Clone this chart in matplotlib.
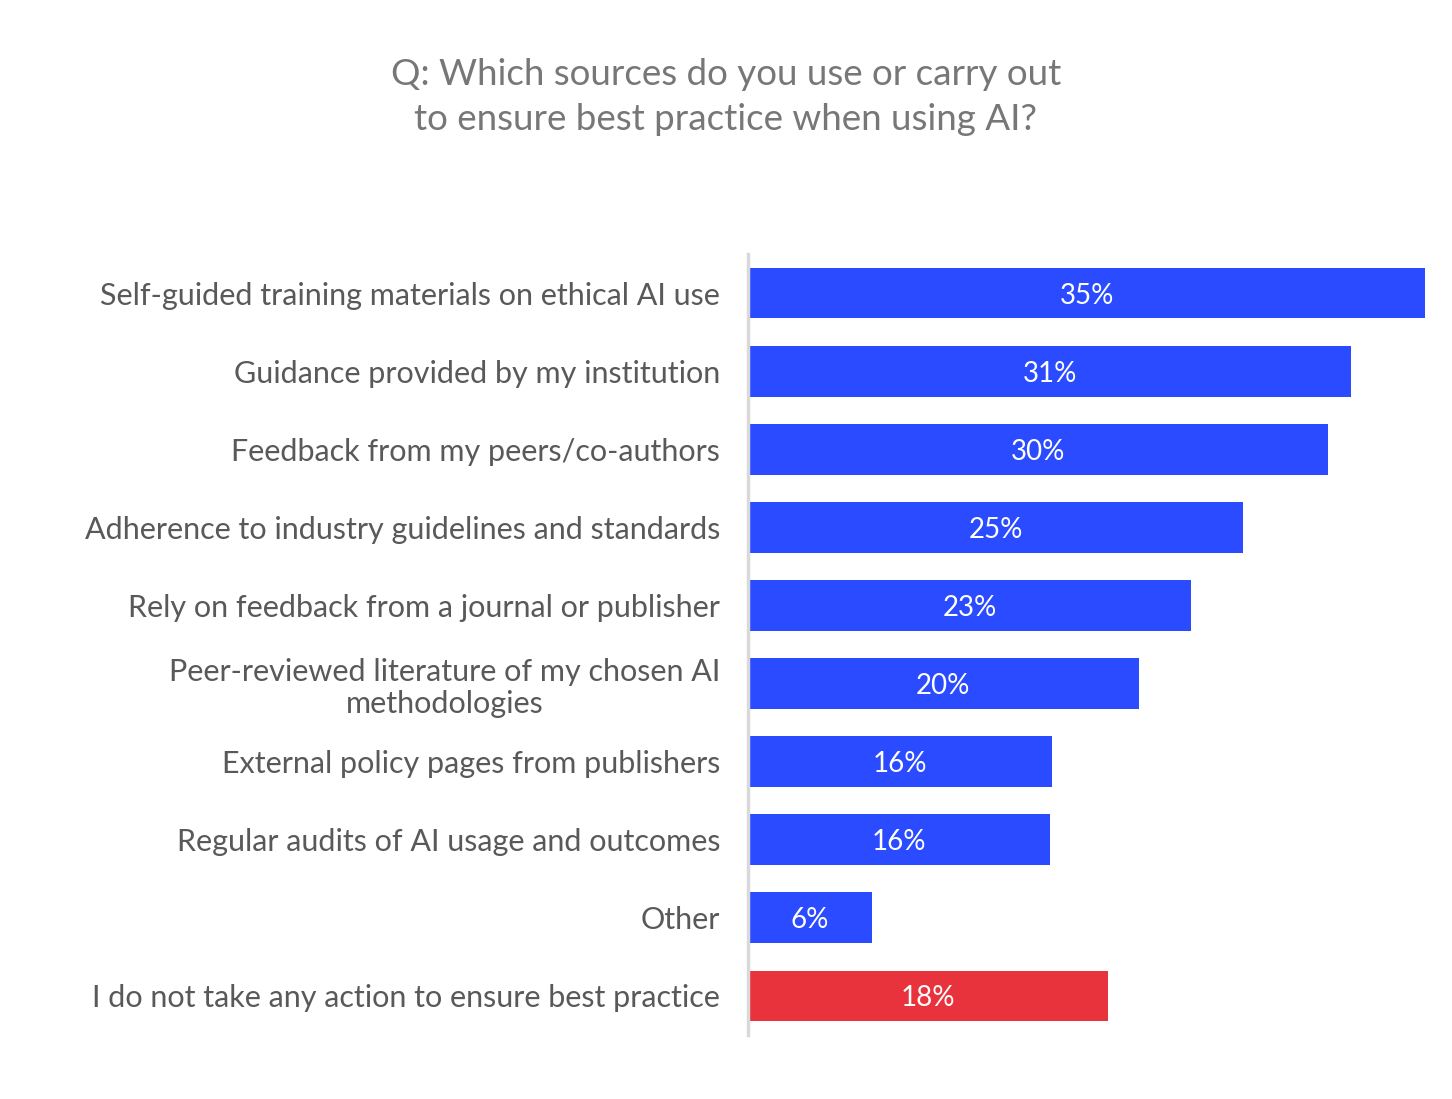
import matplotlib.pyplot as plt

# ----------------------------------------------------------------------------------------------------------------------
categories = [
    "Self-guided training materials on ethical AI use",
    "Guidance provided by my institution",
    "Feedback from my peers/co-authors",
    "Adherence to industry guidelines and standards",
    "Rely on feedback from a journal or publisher",
    "Peer-reviewed literature of my chosen AI\nmethodologies",
    "External policy pages from publishers",
    "Regular audits of AI usage and outcomes",
    "Other",
    "I do not take any action to ensure best practice",
]
values = [35.0, 31.2, 30.0, 25.6, 22.9, 20.2, 15.7, 15.6, 6.4, 18.6]
value_labels = ["35%", "31%", "30%", "25%", "23%", "20%", "16%", "16%", "6%", "18%"]
colors = ["#2a4bff"] * 9 + ["#e8323c"]
# ----------------------------------------------------------------------------------------------------------------------

plt.rcParams['font.family'] = ['Lato', 'DejaVu Sans']

fig = plt.figure(figsize=(14.52, 10.99), dpi=100)
ax = fig.add_axes([0.5152, 0.0582, 0.9814 - 0.5152, 0.7107])

pos = list(range(len(categories)))
ax.barh(pos, values, height=0.65, color=colors)

for p, v, lab in zip(pos, values, value_labels):
    ax.text(v / 2, p, lab, ha='center', va='center_baseline', color='white', fontsize=20)

ax.set_xlim(0, 35)
ax.set_ylim(len(categories) - 0.5, -0.5)
ax.set_yticks(pos)
ax.set_yticklabels(categories, fontsize=22, color='#595959', ha='right',
                   multialignment='center', linespacing=1.15)
ax.tick_params(axis='y', length=0, pad=20)
ax.set_xticks([])

for s in ['top', 'right', 'bottom']:
    ax.spines[s].set_visible(False)
ax.spines['left'].set_color('#d9d9d9')
ax.spines['left'].set_linewidth(2.5)

fig.text(0.5, 0.912, "Q: Which sources do you use or carry out\nto ensure best practice when using AI?",
         ha='center', va='center', fontsize=26.5, color='#777777', linespacing=1.45)

fig.savefig("out.png", dpi=100)
